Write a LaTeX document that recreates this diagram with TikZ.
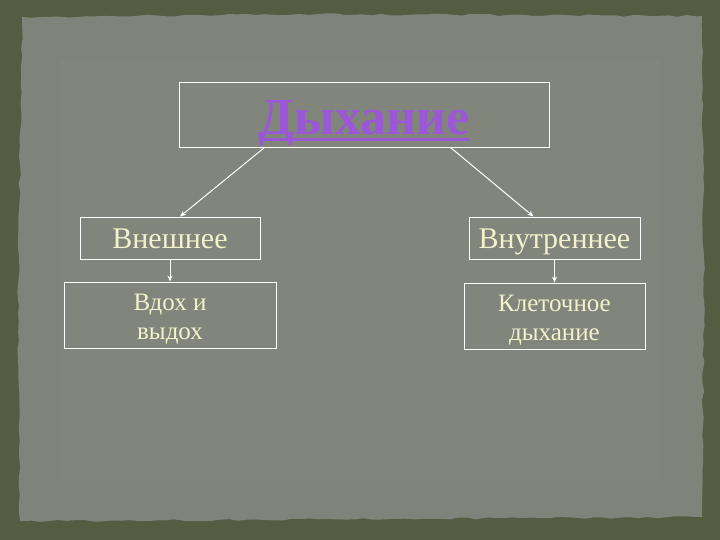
\documentclass[tikz,border=0pt]{standalone}
\usepackage{fontspec}
\setmainfont{Liberation Serif}
\usetikzlibrary{arrows.meta,decorations.pathmorphing}
\definecolor{bgolive}{HTML}{565C42}
\definecolor{panel}{HTML}{80837A}
\definecolor{panelhi}{HTML}{878A80}
\definecolor{txt}{HTML}{F2F2CC}
\definecolor{ttl}{HTML}{9A58D6}
\newcommand{\thickul}[1]{\setbox0\hbox{#1}\rlap{\rule[-6pt]{\wd0}{2.6pt}}\box0}
\tikzset{
  box/.style={draw=white, line width=0.9pt, inner sep=0pt, text=txt, align=center},
  onebox/.style={box, text height=24pt, text depth=4pt, font=\fontsize{30}{34}\selectfont},
  twobox/.style={box, font=\fontsize{25}{29}\selectfont},
  conn/.style={draw=white, line width=1pt, -{Stealth[length=6pt,width=5pt]}},
}
\begin{document}
\begin{tikzpicture}[x=1pt,y=-1pt]
\useasboundingbox (0,0) rectangle (720,540);
\fill[bgolive] (0,0) rectangle (720,540);
\fill[panel, decorate, decoration={random steps, segment length=9pt, amplitude=1.1pt}]
  (22,17) -- (300,14) -- (702,16) -- (704,300) -- (702,517) -- (400,519) -- (20,521) -- (18,300) -- cycle;
\fill[panelhi, opacity=0.35] (60,60) rectangle (660,480);
\node[box, minimum width=370pt, minimum height=65pt] (title) at (364,114.5)
  {\raisebox{-9pt}[\height][\depth]{\fontsize{52}{58}\selectfont\bfseries\color{ttl}\thickul{Дыхание}}};
\node[onebox, minimum width=180pt, minimum height=42pt] (ext) at (170,238) {Внешнее};
\node[onebox, minimum width=171pt, minimum height=42pt] (int) at (554.5,238) {Внутреннее};
\node[twobox, minimum width=212pt, minimum height=66pt] (vd) at (170,315) {\raisebox{-4pt}[\height][\depth]{\begin{tabular}{@{}c@{}}Вдох и\\выдох\end{tabular}}};
\node[twobox, minimum width=181pt, minimum height=66pt] (kl) at (554.5,316) {\raisebox{-4pt}[\height][\depth]{\begin{tabular}{@{}c@{}}Клеточное\\дыхание\end{tabular}}};
\draw[conn] ([xshift=86pt]title.south west) -- ([xshift=10pt]ext.north);
\draw[conn] ([xshift=-99pt]title.south east) -- ([xshift=-21pt]int.north);
\draw[conn] (ext.south) -- (vd.north);
\draw[conn] (int.south) -- (kl.north);
\end{tikzpicture}
\end{document}
